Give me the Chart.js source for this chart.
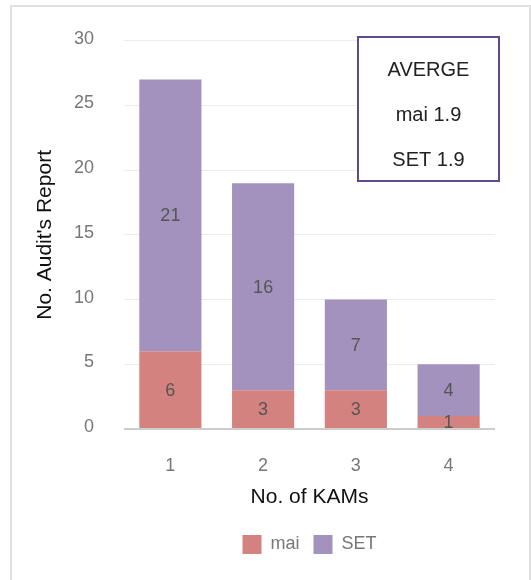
<!DOCTYPE html>
<html>
<head>
<meta charset="utf-8">
<script src="https://cdn.jsdelivr.net/npm/chart.js@4"></script>
<style>
    html, body { margin: 0; padding: 0; background: #fff; overflow: hidden; }
    #frame {
        position: absolute; left: 10px; top: 5px; width: 521px; height: 600px;
        border: 2px solid #e0e0e0; box-sizing: border-box;
    }
    #wrap { position: absolute; left: 0; top: 0; width: 531px; height: 580px; }
</style>
</head>
<body>
<div id="frame"></div>
<div id="wrap"><canvas id="kamChart"></canvas></div>
<script>
// Data
const categories = ['1', '2', '3', '4'];
const maiValues = [6, 3, 3, 1];
const setValues = [21, 16, 7, 4];
const yTicks = [0, 5, 10, 15, 20, 25, 30];
const averageLines = ['AVERGE', 'mai 1.9', 'SET 1.9'];

const FONT = "'Liberation Sans', Arial, sans-serif";

// Value labels in the middle of each stacked segment
const segmentLabels = {
    id: 'segmentLabels',
    afterDatasetsDraw(chart) {
        const ctx = chart.ctx;
        ctx.save();
        ctx.font = `18px ${FONT}`;
        ctx.fillStyle = '#555555';
        ctx.textAlign = 'center';
        ctx.textBaseline = 'middle';
        chart.data.datasets.forEach((ds, i) => {
            const meta = chart.getDatasetMeta(i);
            meta.data.forEach((bar, j) => {
                const { x, y, base } = bar.getProps(['x', 'y', 'base'], true);
                ctx.fillText(String(ds.data[j]), x, (y + base) / 2 + 1);
            });
        });
        ctx.restore();
    }
};

// The "AVERGE" box in the top right corner
const averageBox = {
    id: 'averageBox',
    afterDraw(chart) {
        const ctx = chart.ctx;
        ctx.save();
        ctx.fillStyle = '#ffffff';
        ctx.fillRect(358, 37, 141, 144);
        ctx.strokeStyle = '#5e4a8a';
        ctx.lineWidth = 2;
        ctx.strokeRect(358, 37, 141, 144);
        ctx.font = `20px ${FONT}`;
        ctx.fillStyle = '#222222';
        ctx.textAlign = 'center';
        ctx.textBaseline = 'middle';
        averageLines.forEach((line, i) => {
            ctx.fillText(line, 428.5, 70 + i * 45);
        });
        ctx.restore();
    }
};

const ctx = document.getElementById('kamChart').getContext('2d');

new Chart(ctx, {
    type: 'bar',
    data: {
        labels: categories,
        datasets: [
            {
                label: 'mai',
                data: maiValues,
                backgroundColor: '#d4827f',
                barPercentage: 0.67,
                categoryPercentage: 1
            },
            {
                label: 'SET',
                data: setValues,
                backgroundColor: '#a492be',
                barPercentage: 0.67,
                categoryPercentage: 1
            }
        ]
    },
    options: {
        responsive: true,
        maintainAspectRatio: false,
        animation: false,
        layout: {
            padding: { top: 36, right: 36, bottom: 16, left: 0 }
        },
        plugins: {
            legend: {
                position: 'bottom',
                fullSize: false,
                labels: {
                    color: '#777777',
                    font: { size: 18, family: FONT },
                    boxWidth: 19,
                    boxHeight: 19,
                    padding: 14
                }
            },
            tooltip: { enabled: false }
        },
        scales: {
            x: {
                stacked: true,
                grid: { display: false, drawTicks: false },
                border: { display: false },
                ticks: {
                    color: '#777777',
                    font: { size: 18, family: FONT },
                    padding: 26
                },
                title: {
                    display: true,
                    text: 'No. of KAMs',
                    color: '#111111',
                    font: { size: 21, family: FONT },
                    padding: { top: 0, bottom: 11 }
                },
                afterFit: (scale) => { scale.height = 92; }
            },
            y: {
                stacked: true,
                min: 0,
                max: 30,
                afterBuildTicks: (scale) => {
                    scale.ticks = yTicks.map(v => ({ value: v }));
                },
                grid: {
                    drawTicks: false,
                    color: (c) => c.tick && c.tick.value === 0 ? '#cccccc' : '#ececec',
                    lineWidth: (c) => c.tick && c.tick.value === 0 ? 2 : 1
                },
                border: { display: false },
                ticks: {
                    color: '#777777',
                    font: { size: 18, family: FONT },
                    padding: 30,
                    labelOffset: -2
                },
                title: {
                    display: true,
                    text: "No. Audit's Report",
                    color: '#111111',
                    font: { size: 21, family: FONT },
                    padding: { top: 33, bottom: 0 }
                },
                afterFit: (scale) => { scale.width = 124; }
            }
        }
    },
    plugins: [segmentLabels, averageBox]
});
</script>
</body>
</html>
